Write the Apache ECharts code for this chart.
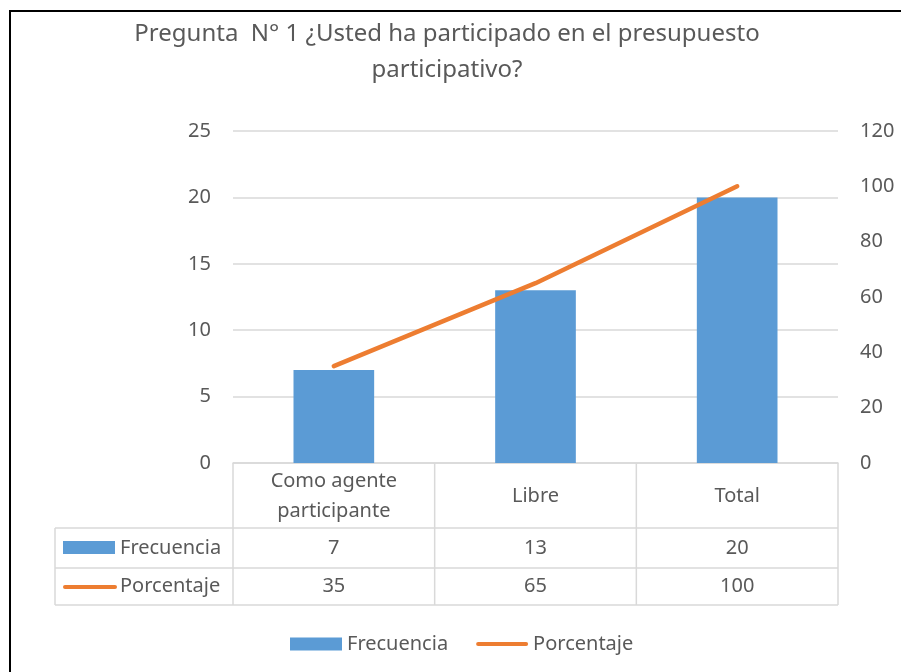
<!DOCTYPE html>
<html>
<head>
<meta charset="utf-8">
<script src="https://cdn.jsdelivr.net/npm/echarts@6/dist/echarts.min.js"></script>
<style>
  html, body { margin: 0; padding: 0; background: #fff; }
  #main { width: 901px; height: 672px; }
</style>
</head>
<body>
<div id="main"></div>
<script>
const titleText = "Pregunta  N° 1 ¿Usted ha participado en el presupuesto\nparticipativo?";
const categories = ["Como agente\nparticipante", "Libre", "Total"];
const frecuencia = [7, 13, 20];
const porcentaje = [35, 65, 100];
const leftTicks = { min: 0, max: 25, interval: 5 };
const rightTicks = { min: 0, max: 120, interval: 20 };

const FONT = "Noto Sans";
const TXT = "#595959";
const GRIDC = "#d9d9d9";
const BLUE = "#5b9bd5";
const ORANGE = "#ed7d31";
const FS = 20;

// plot area + data table layout
const G = { left: 233, right: 838, top: 131, bottom: 463 };
const rowY = [463, 528, 568, 605];
const tableLeft = 55;

const chart = echarts.init(document.getElementById("main"), null, { renderer: "canvas" });

chart.setOption({
  animation: false,
  textStyle: { fontFamily: FONT, color: TXT },
  title: {
    text: titleText,
    left: 442,
    textAlign: "center",
    top: 11,
    textStyle: { fontFamily: FONT, fontSize: 24, fontWeight: "normal", color: TXT, lineHeight: 36 }
  },
  legend: {
    left: 285,
    top: 629,
    itemWidth: 52,
    itemHeight: 13,
    itemGap: 28,
    textStyle: { fontFamily: FONT, fontSize: FS, color: TXT },
    data: [
      { name: "Frecuencia", icon: "rect" },
      { name: "Porcentaje", icon: "path://M2,0 H50 A2,2 0 0 1 50,4 H2 A2,2 0 0 1 2,0 Z" }
    ]
  },
  grid: { left: G.left, right: 901 - G.right, top: G.top, bottom: 672 - G.bottom, containLabel: false },
  xAxis: {
    type: "category",
    data: categories,
    axisLine: { lineStyle: { color: GRIDC, width: 1.5 } },
    axisTick: { show: false },
    axisLabel: { show: false }
  },
  yAxis: [
    {
      type: "value",
      min: leftTicks.min, max: leftTicks.max, interval: leftTicks.interval,
      axisLine: { show: false }, axisTick: { show: false },
      axisLabel: { fontFamily: FONT, fontSize: FS, color: TXT, margin: 22 },
      splitLine: { lineStyle: { color: GRIDC, width: 1.5 } }
    },
    {
      type: "value",
      min: rightTicks.min, max: rightTicks.max, interval: rightTicks.interval,
      axisLine: { show: false }, axisTick: { show: false },
      axisLabel: { fontFamily: FONT, fontSize: FS, color: TXT, margin: 22 },
      splitLine: { show: false }
    }
  ],
  series: [
    {
      name: "Frecuencia",
      type: "bar",
      data: frecuencia,
      barWidth: "40%",
      itemStyle: { color: BLUE }
    },
    {
      name: "Porcentaje",
      type: "line",
      yAxisIndex: 1,
      data: porcentaje,
      symbol: "none",
      itemStyle: { color: ORANGE },
      lineStyle: { color: ORANGE, width: 4.5, cap: "round" }
    }
  ]
});

// data table under the plot, placed from the category scale
const step = (G.right - G.left) / categories.length;
const centers = categories.map((c, i) => chart.convertToPixel({ xAxisIndex: 0 }, i));
const lineStyle = { stroke: GRIDC, lineWidth: 1.5 };
const g = [];

// frame of the whole chart
g.push({ type: "rect", shape: { x: 10, y: 11, width: 900, height: 670 }, style: { fill: null, stroke: "#000", lineWidth: 2 } });

// horizontal lines
[rowY[1], rowY[2], rowY[3]].forEach(y => {
  g.push({ type: "line", shape: { x1: tableLeft, y1: y, x2: G.right, y2: y }, style: lineStyle });
});
// vertical lines
for (let i = 0; i <= categories.length; i++) {
  const x = G.left + step * i;
  g.push({ type: "line", shape: { x1: x, y1: rowY[0], x2: x, y2: rowY[3] }, style: lineStyle });
}
g.push({ type: "line", shape: { x1: tableLeft, y1: rowY[1], x2: tableLeft, y2: rowY[3] }, style: lineStyle });

const cellText = (x, y, text) => ({
  type: "text", x: x, y: y,
  style: { text: String(text), fill: TXT, font: FS + "px '" + FONT + "'", align: "center", verticalAlign: "middle", lineHeight: 30 }
});

categories.forEach((c, i) => {
  g.push(cellText(centers[i], (rowY[0] + rowY[1]) / 2 + 1, c));
  g.push(cellText(centers[i], (rowY[1] + rowY[2]) / 2, frecuencia[i]));
  g.push(cellText(centers[i], (rowY[2] + rowY[3]) / 2, porcentaje[i]));
});

// row headers with legend keys
g.push({ type: "rect", shape: { x: 63, y: 541, width: 52, height: 13 }, style: { fill: BLUE } });
g.push({ type: "line", shape: { x1: 65, y1: 587, x2: 115, y2: 587 }, style: { stroke: ORANGE, lineWidth: 4, lineCap: "round" } });
["Frecuencia", "Porcentaje"].forEach((name, k) => {
  g.push({
    type: "text", x: 120, y: (rowY[1 + k] + rowY[2 + k]) / 2,
    style: { text: name, fill: TXT, font: FS + "px '" + FONT + "'", align: "left", verticalAlign: "middle" }
  });
});

chart.setOption({ graphic: g });
</script>
</body>
</html>
